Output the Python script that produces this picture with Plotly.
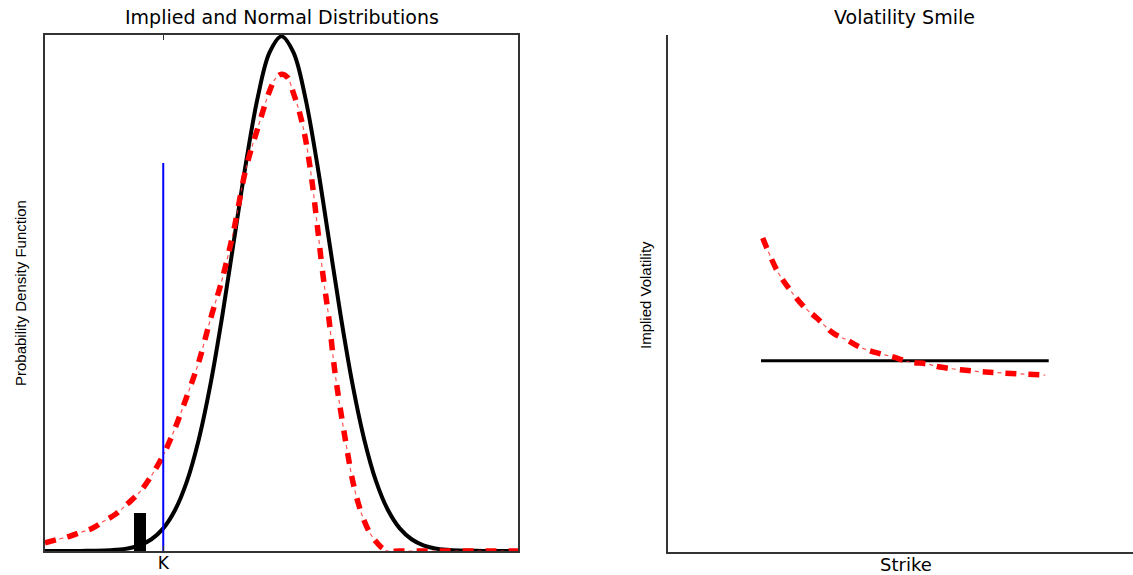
import plotly.graph_objects as go

# ---------------- data: left panel (distributions) ----------------
normal_x = [60, 62, 64, 66, 68, 70, 72, 74, 76, 78, 80, 82, 84, 86, 88, 90, 92, 94, 96, 98, 100,
            102, 104, 106, 108, 110, 112, 114, 116, 118, 120, 122, 124, 126, 128, 130, 132, 134, 136, 138, 140]
normal_pdf = [0.0, 0.0, 0.00001, 0.00001, 0.00002, 0.00004, 0.00011, 0.00025, 0.00055, 0.00114, 0.00219,
              0.00397, 0.00675, 0.01079, 0.01619, 0.02283, 0.03025, 0.03764, 0.04401, 0.04834, 0.04987,
              0.04834, 0.04401, 0.03764, 0.03025, 0.02283, 0.01619, 0.01079, 0.00675, 0.00397, 0.00219,
              0.00114, 0.00055, 0.00025, 0.00011, 0.00004, 0.00002, 0.00001, 0.00001, 0.0, 0.0]

implied_x = [60, 62, 64, 66, 68, 70, 72, 74, 76, 78, 80, 82, 84, 86, 88, 90, 92, 94, 96, 98, 99, 100,
             101, 102, 103, 104, 105, 106, 107, 108, 109, 110, 111, 112, 113, 114, 115, 116, 117, 118,
             120, 125, 130, 135, 140]
implied_pdf = [0.0008, 0.0011, 0.0014, 0.0018, 0.0022, 0.0029, 0.0036, 0.0046, 0.0057, 0.0073, 0.0093,
               0.0119, 0.0150, 0.0183, 0.0225, 0.0264, 0.0313, 0.0371, 0.0410, 0.0446, 0.0458, 0.0462,
               0.0459, 0.0444, 0.0426, 0.0401, 0.0365, 0.0318, 0.0268, 0.0226, 0.0175, 0.0136, 0.0101,
               0.0069, 0.0046, 0.0029, 0.0017, 0.0009, 0.0003, 0.0,
               0.0, 0.0, 0.0, 0.0, 0.0]

strike_K = 80
strike_line_top = 0.0376
bar_x = [76]
bar_height = [0.0037]

# ---------------- data: right panel (volatility smile) ----------------
flat_strikes = [76.0, 125.5]
flat_vol = [0.148, 0.148]

smile_strikes = [76.3, 77.0, 78.9, 81.0, 83.6, 85.6, 88.4, 90.8, 93.0, 96.0, 98.7, 101.6, 104.6,
                 106.8, 112.5, 117.6, 124.9]
smile_vol = [0.2429, 0.2352, 0.2166, 0.2027, 0.1888, 0.1810, 0.1694, 0.1640, 0.1586, 0.1540, 0.1509,
             0.1470, 0.1455, 0.1431, 0.1400, 0.1385, 0.1369]

W, H = 1133, 575


def px(x):
    return x / W


def py(y):
    return 1 - y / H


RED = "#ff0000"
THIN_RED = "rgba(255,40,40,0.8)"
AXIS_COL = "#333333"

fig = go.Figure()

# Left panel
fig.add_trace(go.Bar(x=bar_x, y=bar_height, width=2, marker=dict(color="black", line=dict(width=0)),
                     xaxis="x", yaxis="y", hoverinfo="skip"))
fig.add_trace(go.Scatter(x=normal_x, y=normal_pdf, mode="lines", line=dict(color="black", width=4, shape="spline"),
                         xaxis="x", yaxis="y", hoverinfo="skip"))
fig.add_trace(go.Scatter(x=implied_x, y=implied_pdf, mode="lines",
                         line=dict(color=RED, width=5.5, dash="11px,12px", shape="spline"),
                         xaxis="x", yaxis="y", hoverinfo="skip"))
fig.add_trace(go.Scatter(x=implied_x, y=implied_pdf, mode="lines",
                         line=dict(color=THIN_RED, width=1.2, dash="0px,15px,4px,4px", shape="spline"),
                         xaxis="x", yaxis="y", hoverinfo="skip"))
fig.add_trace(go.Scatter(x=[strike_K, strike_K], y=[0, strike_line_top], mode="lines",
                         line=dict(color="#0000ff", width=2), xaxis="x", yaxis="y", hoverinfo="skip"))

# Right panel
fig.add_trace(go.Scatter(x=flat_strikes, y=flat_vol, mode="lines", line=dict(color="black", width=3),
                         xaxis="x2", yaxis="y2", hoverinfo="skip"))
fig.add_trace(go.Scatter(x=smile_strikes, y=smile_vol, mode="lines",
                         line=dict(color=RED, width=5.5, dash="11px,12px", shape="spline"),
                         xaxis="x2", yaxis="y2", hoverinfo="skip"))
fig.add_trace(go.Scatter(x=smile_strikes, y=smile_vol, mode="lines",
                         line=dict(color=THIN_RED, width=1.2, dash="0px,15px,4px,4px", shape="spline"),
                         xaxis="x2", yaxis="y2", hoverinfo="skip"))

y_dom = [py(551), py(35)]
y2_dom = [py(552), py(35)]

fig.update_layout(
    width=W, height=H,
    margin=dict(l=0, r=0, t=0, b=0, pad=0),
    paper_bgcolor="white", plot_bgcolor="white",
    showlegend=False,
    bargap=0,
    font=dict(family="DejaVu Sans, Liberation Sans, sans-serif", color="black"),
    xaxis=dict(domain=[px(45), px(518)], range=[60, 140], anchor="y",
               showgrid=False, zeroline=False, showline=True, linecolor=AXIS_COL, linewidth=1.5,
               mirror="all", ticks="inside", ticklen=5, tickcolor=AXIS_COL,
               tickvals=[strike_K], ticktext=["K"], ticklabelstandoff=-4,
               tickfont=dict(family="DejaVu Sans, sans-serif", size=17), automargin=False),
    yaxis=dict(domain=y_dom, range=[0, 0.05], anchor="x",
               showgrid=False, zeroline=False, showline=True, linecolor=AXIS_COL, linewidth=1.5,
               mirror=True, showticklabels=False, ticks="", automargin=False),
    xaxis2=dict(domain=[px(668), 1.0], range=[60, 140], anchor="y2",
                showgrid=False, zeroline=False, showline=True, linecolor=AXIS_COL, linewidth=1.5,
                showticklabels=False, ticks="", automargin=False),
    yaxis2=dict(domain=y2_dom, range=[0, 0.4], anchor="x2",
                showgrid=False, zeroline=False, showline=True, linecolor=AXIS_COL, linewidth=1.5,
                showticklabels=False, ticks="", automargin=False),
)

title_font = dict(family="DejaVu Sans, Liberation Sans, sans-serif", size=19, color="black")
label_font = dict(family="Liberation Sans Narrow, Arial Narrow, Liberation Sans, sans-serif",
                  size=15, color="black")

annotations = [
    dict(text="Implied and Normal Distributions", x=px(282), y=py(17), font=title_font),
    dict(text="Volatility Smile", x=px(905), y=py(17), font=title_font),
    dict(text="Strike", x=px(906), y=py(564), font=dict(family="DejaVu Sans, sans-serif", size=18, color="black")),
    dict(text="Probability Density Function", x=px(20), y=py(293), textangle=-90, font=label_font),
    dict(text="Implied Volatility", x=px(645), y=py(295), textangle=-90, font=label_font),
]
for a in annotations:
    a.update(xref="paper", yref="paper", showarrow=False, xanchor="center", yanchor="middle")
fig.update_layout(annotations=annotations)

fig.write_html("out.html", config={"displayModeBar": False})
